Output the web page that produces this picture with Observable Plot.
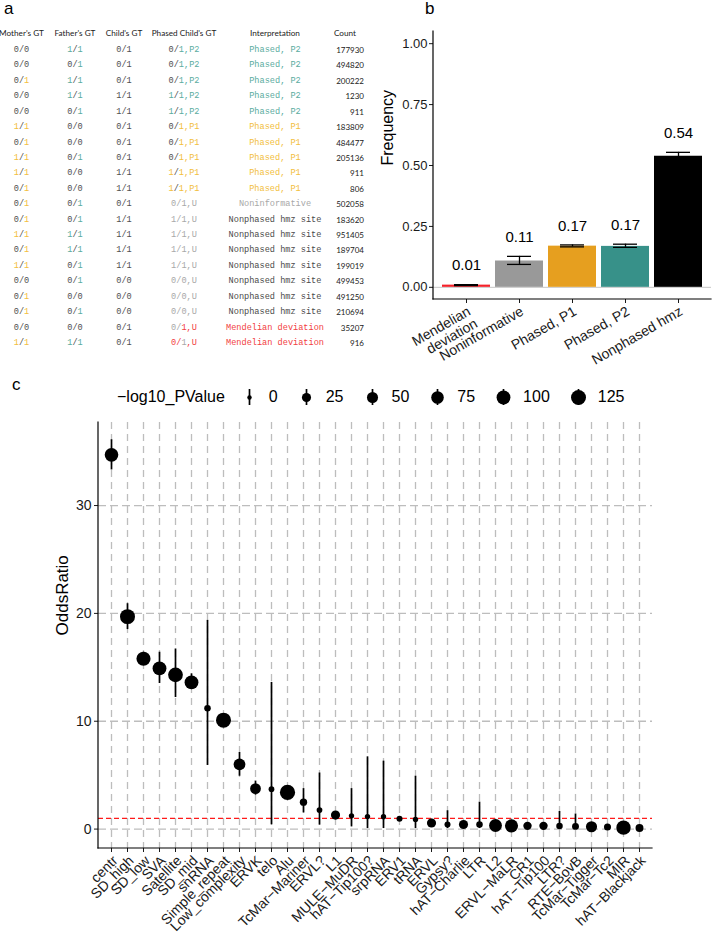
<!DOCTYPE html>
<html><head><meta charset="utf-8">
<script src="https://cdn.jsdelivr.net/npm/d3@7"></script>
<script src="https://cdn.jsdelivr.net/npm/@observablehq/plot@0.6"></script>
<style>
body{margin:0;background:#fff;}
#fig{position:relative;width:713px;height:933px;overflow:hidden;background:#fff;font-family:"Liberation Sans",Arial,Helvetica,sans-serif;}
.cell{position:absolute;white-space:pre;line-height:12px;height:12px;}
.mono{font-family:"Liberation Mono",monospace;font-size:8.6px;text-align:center;}
.hdr{font-family:Lato,sans-serif;font-size:8.2px;color:#222;text-align:center;}
.cnt{font-family:Lato,sans-serif;font-size:8px;color:#222;text-align:right;}
.plabel{position:absolute;font-size:17px;line-height:17px;color:#000;}
</style></head><body>
<div id="fig"></div>
<script>
// ---------------- Panel a data ----------------
const tableHeaders = ["Mother's GT","Father's GT","Child's GT","Phased Child's GT","Interpretation","Count"];
const motherGT = ["0/0","0/0","0/1","0/0","0/0","1/1","0/1","1/1","1/1","0/1","0/1","0/1","1/1","0/1","1/1","0/0","0/1","0/1","0/0","1/1"];
const fatherGT = ["1/1","0/1","1/1","1/1","0/1","0/0","0/0","0/1","0/0","0/0","0/1","0/1","1/1","1/1","0/1","0/1","0/0","0/1","0/0","1/1"];
const childGT  = ["0/1","0/1","0/1","1/1","1/1","0/1","0/1","0/1","1/1","1/1","0/1","1/1","1/1","1/1","1/1","0/0","0/0","0/0","0/1","0/1"];
const phasedGT = ["0/1,P2","0/1,P2","0/1,P2","1/1,P2","1/1,P2","0/1,P1","0/1,P1","0/1,P1","1/1,P1","1/1,P1","0/1,U","1/1,U","1/1,U","1/1,U","1/1,U","0/0,U","0/0,U","0/0,U","0/1,U","0/1,U"];
const interpretation = ["Phased, P2","Phased, P2","Phased, P2","Phased, P2","Phased, P2","Phased, P1","Phased, P1","Phased, P1","Phased, P1","Phased, P1","Noninformative","Nonphased hmz site","Nonphased hmz site","Nonphased hmz site","Nonphased hmz site","Nonphased hmz site","Nonphased hmz site","Nonphased hmz site","Mendelian deviation","Mendelian deviation"];
const siteCount = ["177930","494820","200222","1230","911","183809","484477","205136","911","806","502058","183620","951405","189704","199019","499453","491250","210694","35207","916"];

// ---------------- Panel b data ----------------
const freqCategories = ["Mendelian\ndeviation","Noninformative","Phased, P1","Phased, P2","Nonphased hmz"];
const freqValues = [0.009, 0.108, 0.169, 0.168, 0.538];
const freqLower  = [0.007, 0.094, 0.166, 0.164, 0.531];
const freqUpper  = [0.011, 0.127, 0.174, 0.177, 0.554];
const freqLabels = ["0.01","0.11","0.17","0.17","0.54"];
const freqColors = ["#f5222a","#999999","#e69f1f","#379189","#000000"];

// ---------------- Panel c data ----------------
const repeatClasses = ["centr","SD_high","SD_low","SVA","Satellite","SD_mid","snRNA","Simple_repeat","Low_complexity","ERVK","telo","Alu","TcMar\u2212Mariner","ERVL?","L1","MULE\u2212MuDR","hAT\u2212Tip100?","srpRNA","ERV1","tRNA","ERVL","Gypsy?","hAT\u2212Charlie","LTR","L2","ERVL\u2212MaLR","CR1","hAT\u2212Tip100","LTR?","RTE\u2212BovB","TcMar\u2212Tigger","TcMar\u2212Tc2","MIR","hAT\u2212Blackjack"];
const oddsRatio = [34.7,19.7,15.8,14.9,14.3,13.6,11.2,10.1,6.0,3.75,3.7,3.4,2.5,1.76,1.3,1.23,1.16,1.14,0.96,0.9,0.56,0.43,0.43,0.43,0.33,0.3,0.3,0.3,0.28,0.25,0.22,0.19,0.13,0.1];
const orLower = [33.3,18.5,15.2,13.5,12.2,13.0,5.9,9.6,4.9,3.15,0.4,3.1,1.5,0.37,1.1,0.2,0.05,0.05,0.85,0.05,0.45,0.05,0.33,0.05,0.28,0.26,0.22,0.2,0.05,0.05,0.15,0.08,0.1,0.05];
const orUpper = [36.1,20.9,16.4,16.4,16.7,14.4,19.35,10.6,7.1,4.45,13.6,3.7,3.75,5.2,1.5,3.75,6.7,6.3,1.1,4.9,0.68,1.7,0.55,2.5,0.38,0.35,0.4,0.42,1.63,1.4,0.3,0.35,0.16,0.2];
const negLog10P = [95,125,105,100,120,100,5,125,60,45,2,130,10,2,25,1,1,1,3,1,25,3,25,5,80,85,18,18,5,7,50,8,110,14];
const pLegendBreaks = [0,25,50,75,100,125];

// ---------------- common ----------------
const FONT = '"Liberation Sans", Arial, Helvetica, sans-serif';
const fig = document.getElementById("fig");
const rScale = {type: "pow", exponent: 0.5, domain: [0, 150], range: [2.2, 8]};

function axisLines(sides) {
  return (index, scales, values, dims) => {
    const g = d3.create("svg:g").attr("stroke", "#000").attr("stroke-width", 1.2)
      .attr("fill", "none").attr("stroke-linecap", "square");
    const {width, height, marginLeft, marginRight, marginTop, marginBottom} = dims;
    const x0 = marginLeft, x1 = width - marginRight, y0 = marginTop, y1 = height - marginBottom;
    if (sides.includes("left")) g.append("line").attr("x1", x0).attr("x2", x0).attr("y1", y0).attr("y2", y1);
    if (sides.includes("bottom")) g.append("line").attr("x1", x0).attr("x2", x1).attr("y1", y1).attr("y2", y1);
    return g.node();
  };
}
function place(el, left, top) {
  const d = document.createElement("div");
  d.style.position = "absolute"; d.style.left = left + "px"; d.style.top = top + "px";
  d.appendChild(el); fig.appendChild(d); return d;
}

// ---------------- Panel b ----------------
const freqData = freqCategories.map((c, i) => ({cat: c, value: freqValues[i], lo: freqLower[i], hi: freqUpper[i], label: freqLabels[i]}));
const plotB = Plot.plot({
  width: 353, height: 370,
  marginLeft: 73, marginRight: 2, marginTop: 31, marginBottom: 71,
  style: {fontFamily: FONT, fontSize: "13px", color: "#1a1a1a", background: "transparent", overflow: "visible"},
  x: {type: "band", domain: freqCategories, paddingInner: 0.1, paddingOuter: 0.15},
  y: {domain: [-0.05, 1.05]},
  color: {domain: freqCategories, range: freqColors},
  marks: [
    Plot.ruleY([0], {stroke: "#c6c6c6", strokeWidth: 1}),
    Plot.barY(freqData, {x: "cat", y: "value", fill: "cat"}),
    Plot.ruleX(freqData, {x: "cat", y1: "lo", y2: "hi", stroke: "#000", strokeWidth: 1.3}),
    Plot.tickY(freqData, {x: "cat", y: "hi", insetLeft: 12, insetRight: 12, stroke: "#000", strokeWidth: 1.3}),
    Plot.tickY(freqData, {x: "cat", y: "lo", insetLeft: 12, insetRight: 12, stroke: "#000", strokeWidth: 1.3}),
    Plot.text(freqData, {x: "cat", y: "hi", text: "label", dy: -19, fontSize: 15, fill: "#000"}),
    Plot.axisY({ticks: [0, 0.25, 0.5, 0.75, 1], tickFormat: ".2f", tickSize: 4, tickPadding: 2, fontSize: 13, label: null}),
    Plot.axisX({tickRotate: -30, textAnchor: "end", lineAnchor: "top", tickSize: 4, tickPadding: 2, fontSize: 14, label: null}),
    Plot.text(["Frequency"], {text: d => d, frameAnchor: "left", rotate: -90, dx: -46, fontSize: 16, fill: "#000"}),
    axisLines(["left", "bottom"])
  ]
});
place(plotB, 360, 0);

// ---------------- Panel a (table) ----------------
const COL = {gray: "#505050", p1: "#f2be3c", p2: "#5aaca0", red: "#f2403f", light: "#a8a8a8", dark: "#4a4a4a"};
const interpColor = {"Phased, P2": COL.p2, "Phased, P1": COL.p1, "Noninformative": COL.light, "Nonphased hmz site": COL.dark, "Mendelian deviation": COL.red};
function spans(text, colorAt) {
  let html = "", cur = null, buf = "";
  for (let i = 0; i < text.length; i++) {
    const c = colorAt(i, text[i]);
    if (c !== cur && buf) { html += `<span style="color:${cur}">${buf}</span>`; buf = ""; }
    cur = c; buf += text[i];
  }
  if (buf) html += `<span style="color:${cur}">${buf}</span>`;
  return html;
}
function phasedColor(r) {
  const t = phasedGT[r], it = interpretation[r];
  if (it === "Phased, P2" || it === "Phased, P1") {
    const c = it === "Phased, P2" ? COL.p2 : COL.p1;
    return (i, ch) => (ch === "1" || i >= 3) ? c : COL.gray;
  }
  if (it === "Mendelian deviation") {
    const parentAlleles = (motherGT[r] + fatherGT[r]).replace(/\//g, "");
    const bad = i => !parentAlleles.includes(t[i]);
    return (i) => i >= 3 ? COL.red : (i === 2 ? (bad(2) ? COL.red : COL.light) : (bad(0) ? COL.red : COL.light));
  }
  return () => COL.light;
}
const colCenters = [21.5, 75, 124, 184, 275];
const countRight = 364;
const headerY = 33, rowY0 = 50, rowStep = 15.42;
function addCell(cls, html, center, y) {
  const d = document.createElement("div");
  d.className = "cell " + cls;
  d.style.left = (center - 60) + "px"; d.style.width = "120px";
  d.style.top = (y - 6) + "px";
  d.innerHTML = html; fig.appendChild(d);
}
tableHeaders.slice(0, 5).forEach((h, j) => addCell("hdr", h, colCenters[j], headerY));
{
  const d = document.createElement("div");
  d.className = "cell hdr"; d.style.left = "325px"; d.style.width = "40px"; d.style.top = (headerY - 6) + "px";
  d.textContent = tableHeaders[5]; fig.appendChild(d);
}
for (let r = 0; r < motherGT.length; r++) {
  const y = rowY0 + r * rowStep;
  addCell("mono", spans(motherGT[r], (i, ch) => ch === "1" ? COL.p1 : COL.gray), colCenters[0], y);
  addCell("mono", spans(fatherGT[r], (i, ch) => ch === "1" ? COL.p2 : COL.gray), colCenters[1], y);
  addCell("mono", spans(childGT[r], () => COL.gray), colCenters[2], y);
  addCell("mono", spans(phasedGT[r], phasedColor(r)), colCenters[3], y);
  addCell("mono", spans(interpretation[r], () => interpColor[interpretation[r]]), colCenters[4], y);
  const d = document.createElement("div");
  d.className = "cell cnt"; d.style.left = (countRight - 50) + "px"; d.style.width = "50px"; d.style.top = (y - 6) + "px";
  d.textContent = siteCount[r]; fig.appendChild(d);
}

// ---------------- Panel c ----------------
const orData = repeatClasses.map((c, i) => ({cls: c, or: oddsRatio[i], lo: orLower[i], hi: orUpper[i], p: negLog10P[i]}));
const plotC = Plot.plot({
  width: 713, height: 523,
  marginLeft: 98, marginRight: 61, marginTop: 12, marginBottom: 85,
  style: {fontFamily: FONT, fontSize: "14px", color: "#1a1a1a", background: "transparent", overflow: "visible"},
  x: {type: "point", domain: repeatClasses, padding: 0.62},
  y: {domain: [-1.8, 37.7]},
  r: rScale,
  marks: [
    Plot.gridY([0, 10, 20, 30], {stroke: "#bdbdbd", strokeOpacity: 1, strokeWidth: 1.3, strokeDasharray: "8,4"}),
    Plot.gridX({stroke: "#bdbdbd", strokeOpacity: 1, strokeWidth: 1.3, strokeDasharray: "7,5"}),
    Plot.ruleY([1], {stroke: "#ff1a1a", strokeWidth: 1.2, strokeDasharray: "5,3"}),
    Plot.ruleX(orData, {x: "cls", y1: "lo", y2: "hi", stroke: "#000", strokeWidth: 1.7}),
    Plot.dot(orData, {x: "cls", y: "or", r: "p", fill: "#000"}),
    Plot.axisY({ticks: [0, 10, 20, 30], tickSize: 4, tickPadding: 3, fontSize: 14, label: null}),
    Plot.axisX({tickRotate: -45, textAnchor: "end", lineAnchor: "top", tickSize: 4, tickPadding: 2, fontSize: 14, label: null}),
    Plot.text(["OddsRatio"], {text: d => d, frameAnchor: "left", rotate: -90, dx: -36, fontSize: 17, fill: "#000"}),
    axisLines(["left", "bottom"])
  ]
});
place(plotC, 0, 410);

// legend for panel c
const legend = document.createElement("div");
legend.style.cssText = `position:absolute;left:117px;top:385px;height:24px;display:flex;align-items:center;font-family:${FONT};font-size:16px;color:#000;white-space:nowrap;`;
const ttl = document.createElement("span");
ttl.textContent = "\u2212log10_PValue"; ttl.style.marginRight = "12px";
legend.appendChild(ttl);
pLegendBreaks.forEach(v => {
  const key = Plot.plot({
    width: 24, height: 16, margin: 0,
    x: {domain: [-1, 1], axis: null}, y: {domain: [0, 1], axis: null},
    r: rScale,
    style: {background: "transparent", overflow: "visible"},
    marks: [
      Plot.ruleX([0], {stroke: "#000", strokeWidth: 1.7}),
      Plot.dot([v], {r: d => d, fill: "#000", frameAnchor: "middle"})
    ]
  });
  key.style.display = "block";
  legend.appendChild(key);
  const lab = document.createElement("span");
  lab.textContent = String(v);
  lab.style.marginLeft = "8px"; lab.style.marginRight = "16px";
  legend.appendChild(lab);
});
fig.appendChild(legend);

// panel letters
[["a", 4, 0], ["b", 425, 0], ["c", 12, 376]].forEach(([t, l, tp]) => {
  const s = document.createElement("div");
  s.className = "plabel"; s.textContent = t; s.style.left = l + "px"; s.style.top = tp + "px";
  fig.appendChild(s);
});
</script></body></html>
